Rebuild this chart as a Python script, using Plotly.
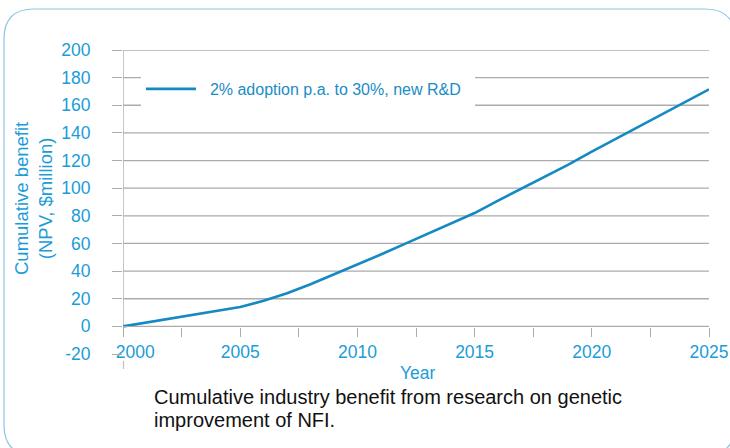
import plotly.graph_objects as go

years = list(range(2000, 2026))
benefit = [0, 2.8, 5.6, 8.4, 11.2, 14.0, 18.5, 24.0, 30.5, 37.5, 44.5,
           52.0, 59.5, 67.0, 74.5, 82.0, 91.0, 99.5, 108.0, 117.0, 126.5,
           135.5, 144.5, 153.5, 162.5, 171.5]
series_name = "2% adoption p.a. to 30%, new R&D"
y_ticks = list(range(-20, 201, 20))
y_ticktext = ["-20"] + [str(v) for v in range(0, 201, 20)]
grid_vals = list(range(0, 201, 20))
x_ticks = [2000, 2005, 2010, 2015, 2020, 2025]
x_ticktext = ["\u00a0\u00a0\u00a0\u00a0\u00a02000", "2005", "2010", "2015", "2020", "2025"]
x_minor = [2002.5, 2007.5, 2012.5, 2017.5, 2022.5]
caption_lines = ["Cumulative industry benefit from research on genetic",
                 "improvement of NFI."]

W, H = 730, 448
L, R, T, B = 123, 21, 50, 94
PW, PH = W - L - R, H - T - B


def px(x):
    return (x - L) / PW


def py(y):
    return (H - B - y) / PH


BLUE = "#1b9cd8"
LINE = "#1489c2"
GRID = "#ababab"
NB = "\u00a0"

fig = go.Figure()
fig.add_trace(go.Scatter(x=years, y=benefit, mode="lines",
                         name=NB * 2 + series_name + NB * 2,
                         line=dict(color=LINE, width=2.6)))

shapes = []
for g in grid_vals:
    shapes.append(dict(type="line", xref="paper", yref="y", x0=0, x1=1, y0=g, y1=g,
                       line=dict(color=GRID, width=1.3), layer="below"))
shapes.append(dict(type="line", xref="x", yref="y", x0=2000, x1=2000, y0=0, y1=200,
                   line=dict(color=GRID, width=1.3), layer="below"))
shapes.append(dict(type="line", xref="paper", yref="paper", x0=px(123.5), x1=px(123.5),
                   y0=py(361), y1=py(369), line=dict(color="#c0c0c0", width=1.2)))


def border_path(x0, y0, x1, y1, r):
    pts = [
        ("M", [(x0 + r, y0)]), ("L", [(x1 - r, y0)]), ("Q", [(x1, y0), (x1, y0 + r)]),
        ("L", [(x1, y1 - r)]), ("Q", [(x1, y1), (x1 - r, y1)]), ("L", [(x0 + r, y1)]),
        ("Q", [(x0, y1), (x0, y1 - r)]), ("L", [(x0, y0 + r)]), ("Q", [(x0, y0), (x0 + r, y0)]),
    ]
    s = ""
    for cmd, ps in pts:
        s += cmd + " ".join(f"{px(a):.5f},{py(b):.5f}" for a, b in ps) + " "
    return s + "Z"


shapes.append(dict(type="path", xref="paper", yref="paper",
                   path=border_path(4, 9, 735, 455, 30),
                   line=dict(color="#8ec6e2", width=1.2)))

annotations = [
    dict(text="Cumulative benefit<br>(NPV, $million)", xref="paper", yref="paper",
         x=px(33), y=py(199), textangle=-90, showarrow=False,
         font=dict(size=18.5, color=BLUE), xanchor="center", yanchor="middle"),
    dict(text="Year", xref="paper", yref="paper", x=px(418), y=py(373), showarrow=False,
         font=dict(size=17.5, color=BLUE), xanchor="center", yanchor="middle"),
]
for i, line in enumerate(caption_lines):
    annotations.append(dict(text=line, xref="paper", yref="paper", x=px(152),
                            y=py(397 + 23 * i), showarrow=False, align="left",
                            font=dict(size=20, color="#111111"),
                            xanchor="left", yanchor="middle"))

fig.update_layout(
    width=W, height=H, autosize=False,
    margin=dict(l=L, r=R, t=T, b=B, pad=0, autoexpand=False),
    paper_bgcolor="white", plot_bgcolor="white",
    font=dict(family="Liberation Sans, Arial, sans-serif", color=BLUE),
    showlegend=True,
    legend=dict(x=px(141), y=py(72), xanchor="left", yanchor="top",
                bgcolor="white", font=dict(size=16, color="#1a8cc6"),
                itemwidth=50),
    xaxis=dict(range=[2000, 2025], anchor="free", position=py(326.4),
               automargin=False,
               showline=True, linecolor=GRID, linewidth=1.3,
               showgrid=False, zeroline=False,
               tickmode="array", tickvals=x_ticks, ticktext=x_ticktext,
               ticks="outside", ticklen=9, tickcolor=GRID, tickwidth=1.3,
               tickfont=dict(size=17.5, color=BLUE),
               minor=dict(tickmode="array", tickvals=x_minor, ticks="outside",
                          ticklen=9, tickcolor=GRID, tickwidth=1.3, showgrid=False)),
    yaxis=dict(range=[-20, 200], showline=False, showgrid=False, zeroline=False,
               automargin=False,
               tickmode="array", tickvals=y_ticks, ticktext=y_ticktext,
               ticks="outside", ticklen=10, tickcolor=GRID, tickwidth=1.3,
               ticklabelstandoff=18,
               tickfont=dict(size=17.5, color=BLUE)),
    shapes=shapes,
    annotations=annotations,
)

fig.write_html(
    "out.html",
    config={"displayModeBar": False, "responsive": False},
    post_script=("document.documentElement.style.overflow='hidden';"
                 "document.body.style.overflow='hidden';"
                 "document.body.style.margin='0';document.body.style.padding='0';"),
)
